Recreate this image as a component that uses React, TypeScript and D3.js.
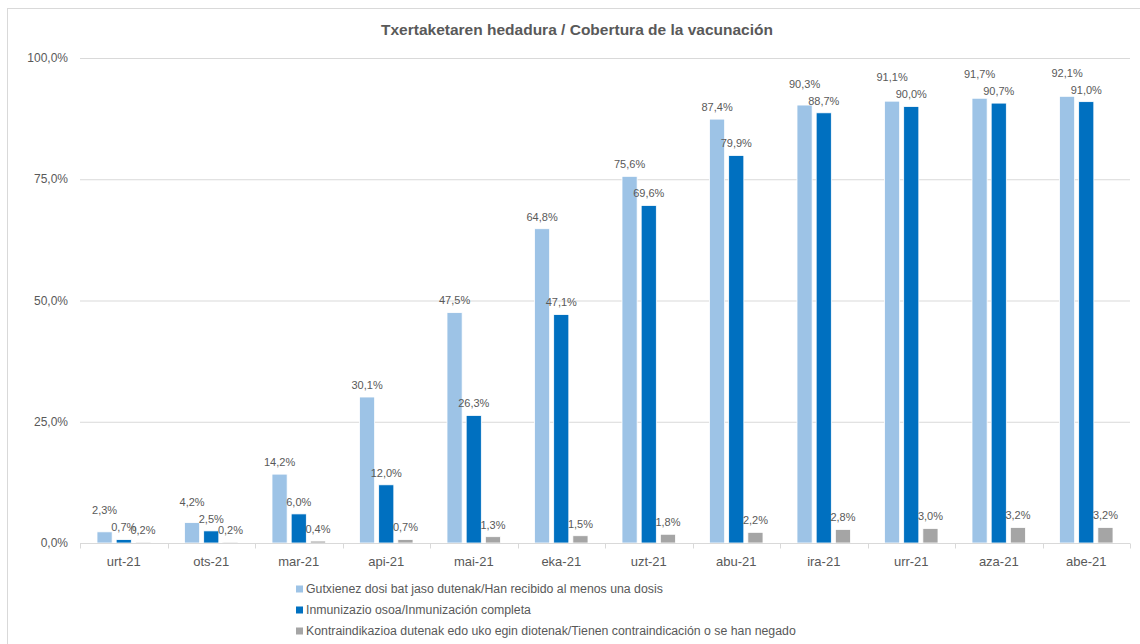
import { useRef, useEffect } from "react";
import * as d3 from "d3";

// months (Basque short names)
const months = ["urt-21", "ots-21", "mar-21", "api-21", "mai-21", "eka-21", "uzt-21", "abu-21", "ira-21", "urr-21", "aza-21", "abe-21"];

// % of population
const atLeastOne = [2.3, 4.2, 14.2, 30.1, 47.5, 64.8, 75.6, 87.4, 90.3, 91.1, 91.7, 92.1];
const complete = [0.7, 2.5, 6.0, 12.0, 26.3, 47.1, 69.6, 79.9, 88.7, 90.0, 90.7, 91.0];
const refused = [0.2, 0.2, 0.4, 0.7, 1.3, 1.5, 1.8, 2.2, 2.8, 3.0, 3.2, 3.2];

const seriesNames = [
  "Gutxienez dosi bat jaso dutenak/Han recibido al menos una dosis",
  "Inmunizazio osoa/Inmunización completa",
  "Kontraindikazioa dutenak edo uko egin diotenak/Tienen contraindicación o se han negado",
];
const colors = ["#9DC3E6", "#0070C0", "#A5A5A5"];
const yTicks = [0, 25, 50, 75, 100];

const fmt = (v: number) => v.toFixed(1).replace(".", ",") + "%";

const App = () => {
  const svgRef = useRef<SVGSVGElement | null>(null);

  useEffect(() => {
    const width = 1140;
    const height = 644;
    const margin = { top: 58, right: 10, bottom: 101, left: 80 };
    const font = "'Liberation Sans', Arial, sans-serif";
    const textColor = "#595959";

    const svg = d3.select(svgRef.current);
    svg.selectAll("*").remove();
    svg.attr("width", width).attr("height", height).style("display", "block");

    // chart frame
    svg.append("rect")
      .attr("x", 7.5).attr("y", 8.5)
      .attr("width", width).attr("height", height)
      .attr("fill", "#fff").attr("stroke", "#D9D9D9");

    svg.append("text")
      .attr("x", 577).attr("y", 35)
      .attr("text-anchor", "middle")
      .attr("font-family", font).attr("font-size", 15.5).attr("font-weight", "bold")
      .attr("fill", textColor)
      .text("Txertaketaren hedadura / Cobertura de la vacunación");

    const x = d3.scaleBand<string>()
      .domain(months)
      .range([margin.left, 1130]);

    const inner = d3.scaleBand<number>()
      .domain([0, 1, 2])
      .range([17, x.bandwidth() - 17])
      .paddingInner(0.21);

    const y = d3.scaleLinear()
      .domain([0, 100])
      .range([height - margin.bottom, margin.top]);

    // gridlines + y labels
    const yAxis = svg.append("g");
    yTicks.forEach(t => {
      if (t > 0) {
        yAxis.append("line")
          .attr("x1", margin.left).attr("x2", 1130)
          .attr("y1", y(t) + 0.5).attr("y2", y(t) + 0.5)
          .attr("stroke", "#D9D9D9");
      }
      yAxis.append("text")
        .attr("x", 68).attr("y", y(t))
        .attr("dy", "0.35em")
        .attr("text-anchor", "end")
        .attr("font-family", font).attr("font-size", 12)
        .attr("fill", textColor)
        .text(fmt(t));
    });

    const all = [atLeastOne, complete, refused];

    // bars
    all.forEach((vals, s) => {
      svg.append("g").selectAll("rect")
        .data(vals)
        .join("rect")
        .attr("x", (_, i) => (x(months[i]) as number) + (inner(s) as number))
        .attr("y", d => y(d))
        .attr("width", inner.bandwidth())
        .attr("height", d => y(0) - y(d))
        .attr("fill", colors[s])
        .attr("stroke", "#fff")
        .attr("stroke-width", 0.8);
    });

    // x axis
    const axisY = y(0) + 0.5;
    svg.append("line")
      .attr("x1", margin.left).attr("x2", 1130)
      .attr("y1", axisY).attr("y2", axisY)
      .attr("stroke", "#D9D9D9");
    months.forEach((m, i) => {
      const bx = x(m) as number;
      svg.append("line")
        .attr("x1", Math.round(bx) + 0.5).attr("x2", Math.round(bx) + 0.5)
        .attr("y1", axisY).attr("y2", axisY + 5)
        .attr("stroke", "#D9D9D9");
      if (i === months.length - 1) {
        svg.append("line")
          .attr("x1", 1130.5).attr("x2", 1130.5)
          .attr("y1", axisY).attr("y2", axisY + 5)
          .attr("stroke", "#D9D9D9");
      }
      svg.append("text")
        .attr("x", bx + x.bandwidth() / 2).attr("y", 561)
        .attr("dy", "0.35em")
        .attr("text-anchor", "middle")
        .attr("font-family", font).attr("font-size", 13)
        .attr("fill", textColor)
        .text(m);
    });

    // data labels
    months.forEach((m, i) => {
      const bx = x(m) as number;
      const cy = all.map(vals => y(vals[i]) - 12);
      // keep first label clear of the second one
      if (cy[0] > cy[1] - 17) cy[0] = cy[1] - 17;
      all.forEach((vals, s) => {
        svg.append("text")
          .attr("x", bx + (inner(s) as number) + inner.bandwidth() / 2)
          .attr("y", cy[s])
          .attr("dy", "0.35em")
          .attr("text-anchor", "middle")
          .attr("font-family", font).attr("font-size", 11)
          .attr("fill", textColor)
          .text(fmt(vals[i]));
      });
    });

    // legend
    seriesNames.forEach((name, s) => {
      const ly = 589 + s * 21;
      svg.append("rect")
        .attr("x", 296).attr("y", ly - 3.5)
        .attr("width", 7).attr("height", 7)
        .attr("fill", colors[s]);
      svg.append("text")
        .attr("x", 306).attr("y", ly)
        .attr("dy", "0.35em")
        .attr("font-family", font).attr("font-size", 12.3)
        .attr("fill", textColor)
        .text(name);
    });
  }, []);

  return (
    <div style={{ position: "absolute", left: 0, top: 0 }}>
      <svg ref={svgRef} />
    </div>
  );
};

export default App;
